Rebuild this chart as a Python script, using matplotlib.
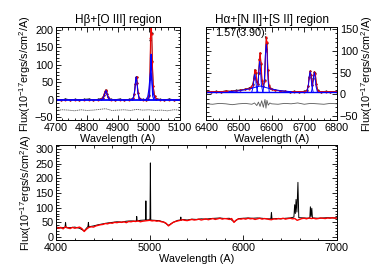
import numpy as np
import matplotlib.pyplot as plt
from matplotlib.ticker import MultipleLocator, AutoMinorLocator

plt.rcParams['font.family'] = ['Liberation Sans', 'DejaVu Sans']
plt.rcParams['mathtext.fontset'] = 'custom'
plt.rcParams['mathtext.rm'] = 'Liberation Sans'
plt.rcParams['mathtext.default'] = 'regular'
plt.rcParams['font.size'] = 7.8

# --- Hbeta + [O III] region ---
hb_wave = [4700, 4715, 4730, 4745, 4760, 4775, 4790, 4805, 4820, 4835,
           4845, 4850, 4854, 4857, 4860, 4862, 4865, 4868, 4872, 4878,
           4890, 4905, 4920, 4935, 4945, 4950, 4953, 4956, 4958, 4960,
           4962, 4965, 4968, 4972, 4980, 4990, 4996, 5000, 5003, 5005,
           5007, 5009, 5011, 5014, 5018, 5024, 5035, 5050, 5065, 5080,
           5100]
hb_data = [1, -1, 2, 0, 1, -2, 1, 2, 0, 1,
           3, 6, 13, 22, 28, 26, 16, 7, 2, 1,
           0, 2, -1, 1, 2, 6, 17, 45, 64, 66,
           48, 20, 6, 2, 1, 0, 3, 12, 60, 170,
           230, 190, 110, 40, 10, 3, 1, -1, 2, 0,
           1]
hb_fit = [0, 0, 0, 0, 0, 0, 0, 0, 0, 0,
          1, 4, 12, 21, 27, 26, 17, 7, 2, 0,
          0, 0, 0, 0, 1, 5, 16, 44, 63, 65,
          47, 20, 6, 1, 0, 0, 2, 11, 62, 175,
          232, 188, 108, 38, 9, 2, 0, 0, 0, 0,
          0]
hb_comps = [
    ([4846, 4852, 4856, 4859, 4861, 4863, 4866, 4870, 4876], [0, 4, 13, 22, 26, 22, 12, 4, 0]),
    ([4944, 4950, 4954, 4957, 4959, 4961, 4964, 4968, 4974], [0, 6, 26, 55, 65, 52, 22, 5, 0]),
    ([4998, 5002, 5004, 5006, 5007, 5008, 5010, 5012, 5016], [0, 10, 50, 115, 130, 110, 45, 10, 0]),
    ([4990, 4996, 5000, 5003, 5005, 5007, 5010, 5014, 5020], [0, 8, 30, 62, 78, 75, 50, 18, 0]),
]
hb_res_wave = [4700, 4720, 4740, 4760, 4780, 4800, 4820, 4840, 4860, 4880, 4900,
               4920, 4940, 4960, 4980, 5000, 5020, 5040, 5060, 5080, 5100]
hb_res = [-31, -29, -30, -32, -29, -31, -30, -28, -26, -31, -30,
          -29, -31, -28, -30, -29, -31, -30, -32, -29, -30]

# --- Halpha + [N II] + [S II] region ---
ha_wave = [6400, 6415, 6430, 6445, 6460, 6475, 6490, 6505, 6520, 6530,
           6538, 6543, 6546, 6549, 6552, 6555, 6558, 6561, 6563, 6565,
           6568, 6571, 6575, 6579, 6582, 6584, 6586, 6589, 6592, 6596,
           6600, 6610, 6625, 6640, 6655, 6670, 6685, 6700, 6708, 6712,
           6715, 6718, 6721, 6724, 6728, 6731, 6734, 6737, 6741, 6750,
           6765, 6780, 6800]
ha_data = [6, 5, 7, 6, 8, 7, 9, 10, 12, 14,
           17, 24, 38, 57, 50, 28, 24, 50, 82, 95,
           70, 30, 18, 32, 105, 130, 118, 55, 20, 14,
           12, 10, 8, 7, 6, 7, 6, 7, 9, 20,
           40, 54, 45, 22, 38, 52, 48, 24, 9, 6,
           7, 6, 6]
ha_fit = [6, 6, 6, 6, 7, 7, 8, 9, 11, 13,
          16, 22, 36, 56, 51, 29, 23, 48, 80, 96,
          72, 32, 19, 30, 100, 131, 120, 57, 21, 14,
          11, 9, 8, 7, 6, 6, 6, 6, 8, 19,
          38, 53, 44, 21, 36, 51, 47, 23, 8, 6,
          6, 6, 6]
ha_base = 6
ha_comps = [
    ([6470, 6500, 6530, 6550, 6565, 6580, 6600, 6630, 6660], [6, 8, 12, 16, 19, 16, 12, 8, 6]),
    ([6540, 6544, 6547, 6549, 6551, 6554, 6558], [6, 18, 40, 46, 38, 16, 6]),
    ([6555, 6559, 6562, 6564, 6566, 6569, 6573], [6, 25, 62, 76, 60, 22, 6]),
    ([6574, 6578, 6581, 6584, 6586, 6589, 6593], [6, 30, 90, 115, 100, 35, 6]),
    ([6709, 6713, 6716, 6718, 6720, 6723, 6727], [6, 22, 45, 52, 44, 20, 6]),
    ([6722, 6726, 6729, 6731, 6733, 6736, 6740], [6, 20, 42, 50, 42, 18, 6]),
]
ha_res_wave = [6400, 6420, 6440, 6460, 6480, 6500, 6520, 6540, 6548, 6555,
               6560, 6565, 6570, 6575, 6580, 6583, 6586, 6590, 6595, 6600,
               6620, 6640, 6660, 6680, 6700, 6720, 6740, 6760, 6780, 6800]
ha_res = [-22, -23, -21, -22, -24, -22, -21, -23, -20, -26,
          -18, -28, -15, -30, -12, -32, -14, -25, -20, -22,
          -23, -21, -22, -20, -23, -21, -22, -23, -21, -22]
ratio_label = "1.57(3.90)"
ratio_wave = 6581
ratio_peak = 131

# --- full spectrum ---
model_wave = np.arange(4000, 7001, 25)
model_flux = [34, 30, 33, 28, 35, 31, 29, 33, 30, 32, 34, 29, 19, 27, 33, 35, 34, 38, 40, 42,
              43, 46, 45, 48, 47, 50, 49, 51, 50, 52, 49, 53, 52, 54, 53, 55, 52, 54, 55, 56,
              57, 55, 56, 54, 55, 52, 51, 47, 38, 44, 50, 53, 55, 57, 59, 57, 56, 58, 60, 58,
              59, 61, 58, 60, 62, 59, 61, 63, 60, 62, 64, 61, 63, 62, 60, 63, 50, 58, 62, 61,
              63, 61, 64, 62, 63, 60, 62, 64, 61, 63, 62, 60, 59, 62, 61, 63, 62, 64, 61, 63,
              64, 62, 63, 57, 60, 63, 64, 62, 65, 63, 64, 62, 63, 65, 64, 63, 65, 64, 66, 64,
              65]
obs_wave = [4000, 4050, 4095, 4101, 4107, 4150, 4200, 4250, 4300, 4340,
            4345, 4350, 4400, 4450, 4500, 4550, 4600, 4650, 4700, 4750,
            4800, 4850, 4857, 4861, 4866, 4900, 4950, 4955, 4959, 4963,
            5000, 5003, 5007, 5011, 5050, 5100, 5150, 5200, 5250, 5300,
            5328, 5332, 5336, 5350, 5400, 5450, 5500, 5550, 5600, 5650,
            5700, 5750, 5800, 5850, 5900, 5950, 6000, 6050, 6100, 6150,
            6200, 6250, 6294, 6300, 6306, 6350, 6400, 6450, 6500, 6540,
            6548, 6555, 6563, 6572, 6583, 6592, 6650, 6700, 6710, 6716,
            6723, 6731, 6738, 6750, 6800, 6850, 6900, 6950, 7000]
obs_flux = [34, 31, 33, 50, 32, 32, 34, 30, 21, 36,
            50, 35, 38, 42, 45, 48, 50, 52, 51, 54,
            55, 54, 56, 70, 55, 57, 58, 60, 123, 58,
            59, 65, 252, 58, 57, 56, 51, 40, 50, 57,
            58, 68, 57, 60, 58, 61, 60, 62, 61, 63,
            64, 65, 63, 64, 52, 63, 64, 65, 64, 65,
            64, 62, 62, 84, 62, 63, 62, 64, 65, 68,
            110, 80, 128, 85, 186, 66, 65, 64, 66, 103,
            70, 98, 65, 65, 64, 65, 66, 65, 66]

ylabel = "Flux(10$^{-17}$ergs/s/cm$^2$/A)"

fig = plt.figure(figsize=(3.74, 2.67), dpi=100)
ax1 = fig.add_axes([0.150, 0.551, 0.331, 0.348])
ax2 = fig.add_axes([0.551, 0.551, 0.350, 0.348])
ax3 = fig.add_axes([0.150, 0.101, 0.751, 0.356])


def style(ax, xmaj, ymaj):
    ax.xaxis.set_major_locator(MultipleLocator(xmaj))
    ax.yaxis.set_major_locator(MultipleLocator(ymaj))
    ax.xaxis.set_minor_locator(AutoMinorLocator(5))
    ax.yaxis.set_minor_locator(AutoMinorLocator(5))
    ax.tick_params(which='both', direction='in', top=True, right=True,
                   width=0.6, pad=2)
    ax.tick_params(which='major', length=3.5)
    ax.tick_params(which='minor', length=1.8)
    for s in ax.spines.values():
        s.set_linewidth(0.7)


# top left
ax1.plot(hb_wave, hb_data, color='black', lw=0.5, marker='.', ms=1.0)
ax1.plot(hb_wave, hb_fit, color='red', lw=0.7, marker='.', ms=1.0)
for w, f in hb_comps:
    ax1.plot(w, f, color='blue', lw=0.8)
ax1.axhline(0, color='blue', lw=1.3)
ax1.plot(hb_res_wave, hb_res, color='0.35', lw=0.6, ls=(0, (1.5, 0.8)))
ax1.set_xlim(4700, 5100)
ax1.set_ylim(-58, 208)
style(ax1, 100, 50)
ax1.set_title("H\u03b2+[O III] region", pad=3, fontsize=8.5)
ax1.set_xlabel("Wavelength (A)", labelpad=1)
ax1.set_ylabel(ylabel, labelpad=1)

# top right
ax2.plot(ha_wave, ha_data, color='black', lw=0.5, marker='.', ms=1.0)
ax2.plot(ha_wave, ha_fit, color='red', lw=0.7, marker='.', ms=1.0)
for w, f in ha_comps:
    ax2.plot(w, f, color='blue', lw=0.7)
ax2.axhline(ha_base, color='blue', lw=1.0)
ax2.plot(ha_res_wave, ha_res, color='0.35', lw=0.6)
ax2.plot([ratio_wave, ratio_wave], [ratio_peak, 157], color='black', lw=0.8, ls=':')
ax2.text(ratio_wave - 2, 141, ratio_label, ha='right', va='center', fontsize=7.8)
ax2.set_xlim(6400, 6800)
ax2.set_ylim(-59, 155)
style(ax2, 100, 50)
ax2.tick_params(labelleft=False, labelright=True)
ax2.yaxis.set_label_position('right')
ax2.set_title("H\u03b1+[N II]+[S II] region", pad=3, fontsize=8.5)
ax2.set_xlabel("Wavelength (A)", labelpad=1)
ax2.set_ylabel(ylabel, labelpad=1)

# bottom
ax3.plot(obs_wave, obs_flux, color='black', lw=0.7)
ax3.plot(model_wave, model_flux, color='red', lw=1.0)
ax3.set_xlim(4000, 7000)
ax3.set_ylim(-10, 313)
style(ax3, 1000, 50)
ax3.set_xlabel("Wavelength (A)", labelpad=1)
ax3.set_ylabel(ylabel, labelpad=1)

fig.savefig("out.png", dpi=100)
